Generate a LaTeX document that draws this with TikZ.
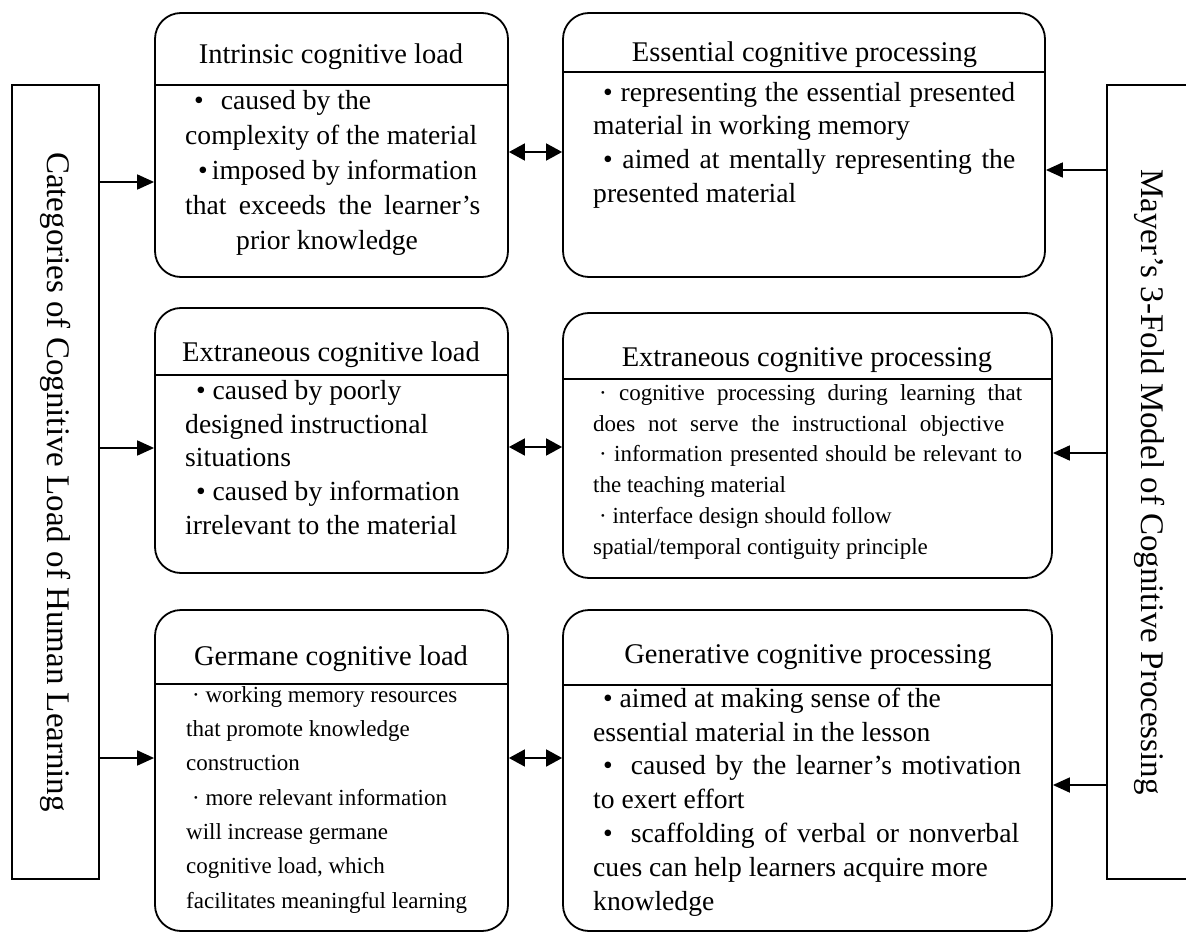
\documentclass[tikz,border=0pt]{standalone}
\usepackage{fontspec}
\setmainfont{Liberation Serif}
\usetikzlibrary{arrows.meta}
\newcommand\fTitle{\fontsize{28.5}{34}\selectfont}
\newcommand\fBar{\fontsize{33}{40}\selectfont}
\newcommand\fBodyA{\fontsize{27.6}{35}\selectfont}
\newcommand\fBodyB{\fontsize{27.6}{33.8}\selectfont}
\newcommand\fBodyC{\fontsize{23}{30.8}\selectfont}
\newcommand\fBodyD{\fontsize{23}{34.3}\selectfont}
\begin{document}
\begin{tikzpicture}[x=1pt,y=-1pt,
  lw/.style={line width=1.8pt},
  box/.style={draw, lw, rounded corners=26pt, inner sep=0pt},
  bar/.style={draw, lw, inner sep=0pt},
  arr/.style={lw, -{Triangle[length=17pt,width=15pt]}},
  darr/.style={lw, {Triangle[length=16pt,width=17pt]}-{Triangle[length=16pt,width=17pt]}},
  ttl/.style={font=\fTitle, inner sep=0pt},
  body/.style={anchor=north west, inner sep=0pt, align=left},
]
\useasboundingbox (0,0) rectangle (1186,933);
\clip (0,0) rectangle (1186,933);

% side bars
\node[bar, minimum width=87pt, minimum height=794pt] (L) at (55.5,482) {};
\node[bar, minimum width=86pt, minimum height=794pt] (R) at (1150,482) {};
\node[rotate=-90, font=\fBar, inner sep=0pt] (Lt) at (L.center) {Categories of Cognitive Load of Human Learning};
\node[rotate=-90, font=\fBar, inner sep=0pt] (Rt) at (R.center) {Mayer’s 3-Fold Model of Cognitive Processing};

% boxes
\node[box, minimum width=353pt, minimum height=264pt] (b1) at (331.5,145) {};
\node[box, minimum width=482pt, minimum height=264pt] (b2) at (804,145) {};
\node[box, minimum width=353pt, minimum height=265pt] (b3) at (331.5,440.5) {};
\node[box, minimum width=489pt, minimum height=265pt] (b4) at (807.5,445.5) {};
\node[box, minimum width=353pt, minimum height=321pt] (b5) at (331.5,770.5) {};
\node[box, minimum width=489pt, minimum height=321pt] (b6) at (807.5,770.5) {};

% header rules
\coordinate (h1) at (0,85);
\coordinate (h2) at (0,72);
\coordinate (h3) at (0,375);
\coordinate (h4) at (0,379);
\coordinate (h5) at (0,684);
\coordinate (h6) at (0,685);
\draw[lw] (b1.west |- h1) -- (b1.east |- h1);
\draw[lw] (b2.west |- h2) -- (b2.east |- h2);
\draw[lw] (b3.west |- h3) -- (b3.east |- h3);
\draw[lw] (b4.west |- h4) -- (b4.east |- h4);
\draw[lw] (b5.west |- h5) -- (b5.east |- h5);
\draw[lw] (b6.west |- h6) -- (b6.east |- h6);

% titles
\node[ttl] (t1) at (331,57) {Intrinsic cognitive load};
\node[ttl] (t2) at (804.5,55) {Essential cognitive processing};
\node[ttl] (t3) at (331,355) {Extraneous cognitive load};
\node[ttl] (t4) at (807,360) {Extraneous cognitive processing};
\node[ttl] (t5) at (331,659) {Germane cognitive load};
\node[ttl] (t6) at (808,657) {Generative cognitive processing};

% bodies
\node[body, font=\fBodyA] (B1) at (185,89) {\rule{0pt}{20pt}\hspace*{9pt}•\hspace{17pt}caused by the\\
complexity of the material\\
\hspace*{13pt}•\hspace{4pt}imposed by information\\
\makebox[295pt][s]{that exceeds the learner’s}\\
\hspace*{51pt}prior knowledge};

\node[body, font=\fBodyB] (B2) at (593,81) {\rule{0pt}{20pt}\makebox[422pt][s]{\hspace*{10pt}• representing the essential presented}\\
material in working memory\\
\makebox[422pt][s]{\hspace*{10pt}• aimed at mentally representing the}\\
presented material};

\node[body, font=\fBodyB] (B3) at (185,379) {\rule{0pt}{20pt}\hspace*{11pt}• caused by poorly\\
designed instructional\\
situations\\
\hspace*{11pt}• caused by information\\
irrelevant to the material};

\node[body, font=\fBodyC] (B4) at (593,383) {\rule{0pt}{17pt}\makebox[429pt][s]{\hspace*{6pt}· cognitive processing during learning that}\\
\makebox[411pt][s]{does not serve the instructional objective}\\
\makebox[429pt][s]{\hspace*{6pt}· information presented should be relevant to}\\
the teaching material\\
\hspace*{6pt}· interface design should follow\\
spatial/temporal contiguity principle};

\node[body, font=\fBodyD] (B5) at (186,685) {\rule{0pt}{17pt}\hspace*{6pt}· working memory resources\\
that promote knowledge\\
construction\\
\hspace*{6pt}· more relevant information\\
will increase germane\\
cognitive load, which\\
facilitates meaningful learning};

\node[body, font=\fBodyB] (B6) at (593,687) {\rule{0pt}{20pt}\hspace*{10pt}• aimed at making sense of the\\
essential material in the lesson\\
\makebox[428pt][s]{\hspace*{10pt}•\hspace{18pt}caused by the learner’s motivation}\\
to exert effort\\
\makebox[426pt][s]{\hspace*{10pt}•\hspace{18pt}scaffolding of verbal or nonverbal}\\
cues can help learners acquire more\\
knowledge};

% connectors
\coordinate (yL1) at (0,182);
\coordinate (yL2) at (0,448);
\coordinate (yL3) at (0,758);
\coordinate (yD1) at (0,152);
\coordinate (yD2) at (0,447);
\coordinate (yD3) at (0,758);
\coordinate (yR1) at (0,170);
\coordinate (yR2) at (0,453);
\coordinate (yR3) at (0,785);
\draw[arr] (L.east |- yL1) -- (b1.west |- yL1);
\draw[arr] (L.east |- yL2) -- (b3.west |- yL2);
\draw[arr] (L.east |- yL3) -- (b5.west |- yL3);
\draw[darr] (b1.east |- yD1) -- (b2.west |- yD1);
\draw[darr] (b3.east |- yD2) -- (b4.west |- yD2);
\draw[darr] (b5.east |- yD3) -- (b6.west |- yD3);
\draw[arr] (R.west |- yR1) -- (b2.east |- yR1);
\draw[arr] (R.west |- yR2) -- (b4.east |- yR2);
\draw[arr] (R.west |- yR3) -- (b6.east |- yR3);
\end{tikzpicture}
\end{document}
